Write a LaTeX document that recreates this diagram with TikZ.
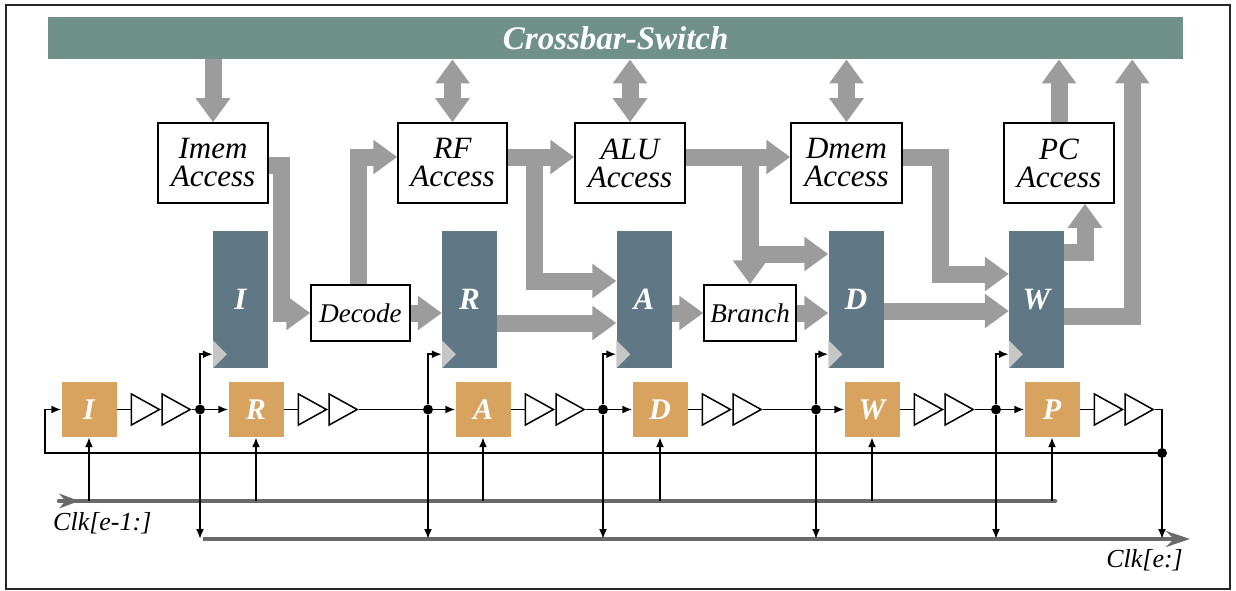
\documentclass[tikz,border=0pt]{standalone}
\usepackage{fontspec}
\setmainfont{Liberation Serif}
\usetikzlibrary{arrows.meta,shapes.geometric}
\definecolor{xbarc}{HTML}{6F9189}
\definecolor{regc}{HTML}{607886}
\definecolor{orng}{HTML}{D8A35E}
\definecolor{flowc}{HTML}{9C9C9C}
\definecolor{clktri}{HTML}{C6C6C6}
\definecolor{busc}{HTML}{6A6A6A}

\begin{document}
\begin{tikzpicture}[x=1pt,y=-1pt,
  accbox/.style={draw, line width=1.5pt, fill=white, minimum width=110pt, minimum height=80pt,
    inner sep=0pt, align=center, font=\fontsize{31}{28}\selectfont\itshape},
  smallbox/.style={draw, line width=1.5pt, fill=white, minimum height=56pt,
    inner sep=0pt, font=\fontsize{27}{27}\selectfont\itshape},
  reg/.style={fill=regc, minimum width=55pt, minimum height=137pt, inner sep=0pt,
    text=white, font=\fontsize{31}{31}\selectfont\bfseries\itshape},
  sq/.style={fill=orng, minimum size=55pt, inner sep=0pt,
    text=white, font=\fontsize{30}{30}\selectfont\bfseries\itshape},
  buf/.style={draw, line width=1.5pt, fill=white, isosceles triangle, isosceles triangle stretches,
    minimum width=31pt, minimum height=28pt, inner sep=0pt, anchor=west},
  dot/.style={circle, fill=black, minimum size=10pt, inner sep=0pt},
  wire/.style={line width=1.8pt},
  arr/.style={-{Latex[length=10pt,width=8pt]}},
  flow/.style={draw=flowc, line width=17pt, line join=miter, -{Triangle[width=33pt,length=24pt]}},
  bidir/.style={draw=flowc, line width=17pt, {Triangle[width=33pt,length=24pt]}-{Triangle[width=33pt,length=24pt]}},
  bus/.style={draw=busc, line width=4.5pt},
  clk/.style={inner sep=0pt, font=\fontsize{26}{26}\selectfont\itshape}
]
\useasboundingbox (0,0) rectangle (1236,591);
\draw[line width=1.3pt, black!85] (6,5) rectangle (1230,589);

% crossbar
\node[fill=xbarc, minimum width=1135pt, minimum height=42pt, inner sep=0pt, anchor=north west,
  text=white, font=\fontsize{33}{33}\selectfont\bfseries\itshape] (xbar) at (48,17) {Crossbar-Switch};

% access units
\node[accbox] (imem) at (213,163) {Imem\\Access};
\node[accbox, minimum width=109pt] (rf) at (452.5,163) {RF\\Access};
\node[accbox] (alu) at (630,163) {ALU\\Access};
\node[accbox, minimum width=111pt] (dmem) at (846.5,163) {Dmem\\Access};
\node[accbox] (pc) at (1059,163) {PC\\Access};

% decode / branch
\node[smallbox, minimum width=99pt] (decode) at (360.5,313) {Decode};
\node[smallbox, minimum width=92pt] (branch) at (750,313) {Branch};

% pipeline registers
\node[reg] (regI) at (240.5,299.5) {I};
\node[reg] (regR) at (469.5,299.5) {R};
\node[reg] (regA) at (644,299.5) {A};
\node[reg] (regD) at (856,299.5) {D};
\node[reg] (regW) at (1036.5,299.5) {W};
\foreach \r in {regI,regR,regA,regD,regW}
  \fill[clktri] (\r.south west) ++(0,-28) -- ++(14,14) -- ++(-14,14) -- cycle;

% crossbar links
\draw[flow] (xbar.south -| imem.north) -- (imem.north);
\draw[bidir] (xbar.south -| rf.north) -- (rf.north);
\draw[bidir] (xbar.south -| alu.north) -- (alu.north);
\draw[bidir] (xbar.south -| dmem.north) -- (dmem.north);
\draw[flow] (pc.north) -- (xbar.south -| pc.north);

% data flow
\draw[flow] ([yshift=-2pt]imem.east) -- ++(13,0) |- (decode.west);
\draw[flow] ([xshift=-2.5pt]decode.north) |- ([yshift=6pt]rf.west);
\draw[flow] ([yshift=6pt]rf.east) -- ++(27,0) |- ([yshift=18.5pt]regA.west);
\draw[flow] ([yshift=6pt]rf.east) -- ([yshift=6pt]alu.west);
\draw[flow] (decode.east) -- (decode.east -| regR.west);
\draw[flow] ([yshift=-23.5pt]regR.east) -- ([yshift=-23.5pt]regA.west);
\draw[flow] (regA.east |- branch.west) -- (branch.west);
\draw[flow] (branch.east) -- (branch.east -| regD.west);
\draw[flow] ([yshift=6pt]alu.east -| branch.north) -- (branch.north);
\draw[flow] ([yshift=45.5pt]regD.west -| branch.north) -- ([yshift=45.5pt]regD.west);
\draw[flow] ([yshift=6pt]alu.east) -- ([yshift=6pt]dmem.west);
\draw[flow] ([yshift=6pt]dmem.east) -- ++(38,0) |- ([yshift=25.5pt]regW.west);
\draw[flow] ([yshift=-11.5pt]regD.east) -- ([yshift=-11.5pt]regW.west);
\draw[flow] ([yshift=47.5pt]regW.east) -| ([xshift=26pt]pc.south);
\draw[flow] ([yshift=-16.5pt]regW.east) -| ([xshift=516.5pt]xbar.south);

% clock buses
\coordinate (b1s) at (59,501);
\coordinate (b1e) at (1055,501);
\coordinate (b2s) at (203,539);
\coordinate (b2e) at (1190,539);
\draw[bus, line cap=round] (b1s) -- (b1e);
\draw[busc, line width=1pt, -{Stealth[length=20pt,width=15pt]}] (b1s) -- ++(20,0);
\draw[bus, -{Stealth[length=24pt,width=16pt]}] (b2s) -- (b2e);
\node[clk, anchor=west] (clkin) at (53,523) {Clk[e-1:]};
\node[clk, anchor=east] (clkout) at (1183,560) {Clk[e:]};

% clock generator stages
\node[sq] (sqI) at (89,409.5) {I};
\node[sq] (sqR) at (256,409.5) {R};
\node[sq] (sqA) at (483,409.5) {A};
\node[sq] (sqD) at (660,409.5) {D};
\node[sq] (sqW) at (872,409.5) {W};
\node[sq] (sqP) at (1052,409.5) {P};

\node[dot] (d1) at (200,409.5) {};
\node[dot] (d2) at (428,409.5) {};
\node[dot] (d3) at (603,409.5) {};
\node[dot] (d4) at (816,409.5) {};
\node[dot] (d5) at (996,409.5) {};
\node[dot] (fb) at (1162,453) {};
\coordinate (fbl) at (45,453);

\foreach \s/\nx/\dt/\rg in {sqI/sqR/d1/regI, sqR/sqA/d2/regR, sqA/sqD/d3/regA, sqD/sqW/d4/regD, sqW/sqP/d5/regW} {
  \node[buf] (\s a) at ([xshift=14pt]\s.east) {};
  \node[buf] (\s b) at (\s a.apex) {};
  \draw[wire] (\s.east) -- (\s a.west);
  \draw[wire] (\s b.apex) -- (\dt);
  \draw[wire, arr] (\dt) -- (\nx.west);
  \draw[wire, arr] (\dt) |- ([yshift=14pt]\rg.south west);
  \draw[wire, arr] (\dt) -- (\dt |- b2s);
}
\node[buf] (sqPa) at ([xshift=14pt]sqP.east) {};
\node[buf] (sqPb) at (sqPa.apex) {};
\draw[wire] (sqP.east) -- (sqPa.west);
\draw[wire] (sqPb.apex) -| (fb);
\draw[wire, arr] (fb) -- (fb |- b2s);
\draw[wire, arr] (fb) -- (fbl) |- (sqI.west);

\foreach \s in {sqI,sqR,sqA,sqD,sqW,sqP}
  \draw[wire, arr] (\s.south |- b1s) -- (\s.south);
\end{tikzpicture}
\end{document}
